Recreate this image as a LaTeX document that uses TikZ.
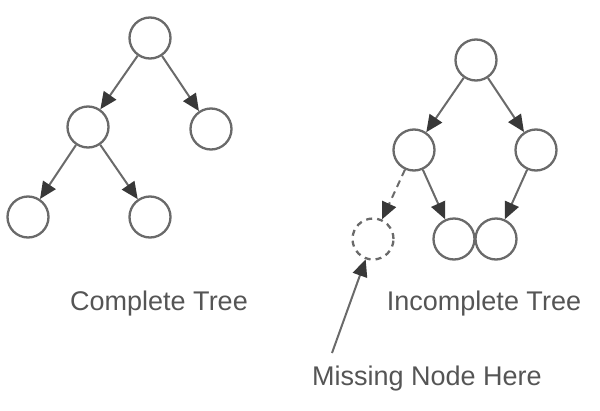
\documentclass[tikz,border=0pt]{standalone}
\usepackage{fontspec}
\setmainfont{Liberation Sans}
\usetikzlibrary{arrows.meta}
\definecolor{linec}{HTML}{6A6A6A}
\definecolor{tipc}{HTML}{383838}
\definecolor{textc}{HTML}{555555}
\tikzset{
  tnode/.style={circle, draw=linec, line width=2.3pt, minimum size=41pt, inner sep=0pt},
  missnode/.style={tnode, dashed, dash pattern=on 6pt off 5pt},
  arr/.style={draw=linec, line width=2pt, -{Triangle[length=17pt,width=15pt,fill=tipc,color=tipc]}},
  darr/.style={arr, dash pattern=on 7pt off 5pt},
  lbl/.style={text=textc, font=\fontsize{27}{32}\selectfont, inner sep=0pt}
}
\begin{document}
\begin{tikzpicture}[x=1pt,y=-1pt]
\useasboundingbox (0,0) rectangle (600,410);
% complete tree
\node[tnode] (r) at (150,38) {};
\node[tnode] (a) at (88,127) {};
\node[tnode] (b) at (211,129) {};
\node[tnode] (c) at (28,217) {};
\node[tnode] (d) at (150,217) {};
\draw[arr] (r) -- (a);
\draw[arr] (r) -- (b);
\draw[arr] (a) -- (c);
\draw[arr] (a) -- (d);
% incomplete tree
\node[tnode] (R) at (476,60) {};
\node[tnode] (A) at (414,150) {};
\node[tnode] (B) at (536,150) {};
\node[missnode] (M) at (373,239) {};
\node[tnode] (D) at (454,239) {};
\node[tnode] (E) at (496,239) {};
\draw[arr] (R) -- (A);
\draw[arr] (R) -- (B);
\draw[darr] (A) -- (M);
\draw[arr] (A) -- (D);
\draw[arr] (B) -- (E);
% labels
\node[lbl] (lc) at (159,304) {Complete Tree};
\node[lbl] (li) at (484,304) {Incomplete Tree};
\node[lbl] (lm) at (427,379) {Missing Node Here};
\coordinate (mstart) at (332,353);
\draw[arr] (mstart) -- (M);
\end{tikzpicture}
\end{document}
